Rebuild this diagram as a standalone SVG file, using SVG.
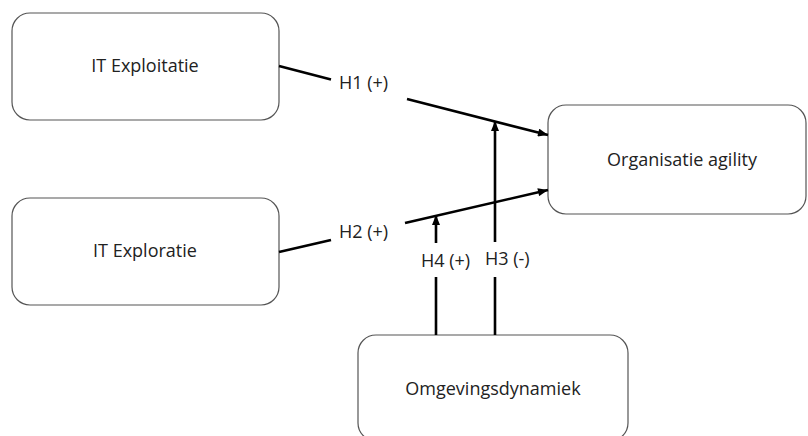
<svg xmlns="http://www.w3.org/2000/svg" width="808" height="436" viewBox="0 0 808 436">
<style>
.box{fill:#fff;stroke:#555;stroke-width:1.2}
.t{font-family:"Open Sans","Liberation Sans",Arial,sans-serif;font-size:18px;fill:#222}
.c{text-anchor:middle}
.ln{stroke:#000;stroke-width:2.6;fill:none}
</style>
<defs>
<marker id="ah" viewBox="0 0 10 8" refX="10" refY="4" markerWidth="11" markerHeight="8" markerUnits="userSpaceOnUse" orient="auto">
<path d="M0,0 L10,4 L0,8 Z" fill="#000"/>
</marker>
</defs>
<rect width="808" height="436" fill="#fff"/>
<g id="n-exploitatie">
<rect class="box" x="12" y="13" width="267" height="107" rx="18"/>
<text class="t c" x="145" y="72">IT Exploitatie</text>
</g>
<g id="n-exploratie">
<rect class="box" x="12" y="198" width="267" height="107" rx="18"/>
<text class="t c" x="145" y="257">IT Exploratie</text>
</g>
<g id="n-agility">
<rect class="box" x="548" y="105" width="258" height="109" rx="18"/>
<text class="t c" x="682" y="166">Organisatie agility</text>
</g>
<g id="n-omgeving">
<rect class="box" x="358" y="335" width="270" height="106" rx="18"/>
<text class="t c" x="493" y="395">Omgevingsdynamiek</text>
</g>
<g id="connectors">
<line class="ln" x1="279" y1="66" x2="331" y2="79.5"/>
<line class="ln" x1="407" y1="99" x2="548" y2="135" marker-end="url(#ah)"/>
<line class="ln" x1="279" y1="252" x2="331" y2="240"/>
<line class="ln" x1="405" y1="223" x2="548" y2="190" marker-end="url(#ah)"/>
<line class="ln" x1="495" y1="335" x2="495" y2="277"/>
<line class="ln" x1="495" y1="242" x2="495" y2="121" marker-end="url(#ah)"/>
<line class="ln" x1="436" y1="335" x2="436" y2="277"/>
<line class="ln" x1="436" y1="243" x2="436" y2="215" marker-end="url(#ah)"/>
<text class="t" x="339" y="89">H1 (+)</text>
<text class="t" x="339" y="238">H2 (+)</text>
<text class="t" x="421" y="267">H4 (+)</text>
<text class="t" x="485" y="265">H3 (-)</text>
</g>
</svg>
